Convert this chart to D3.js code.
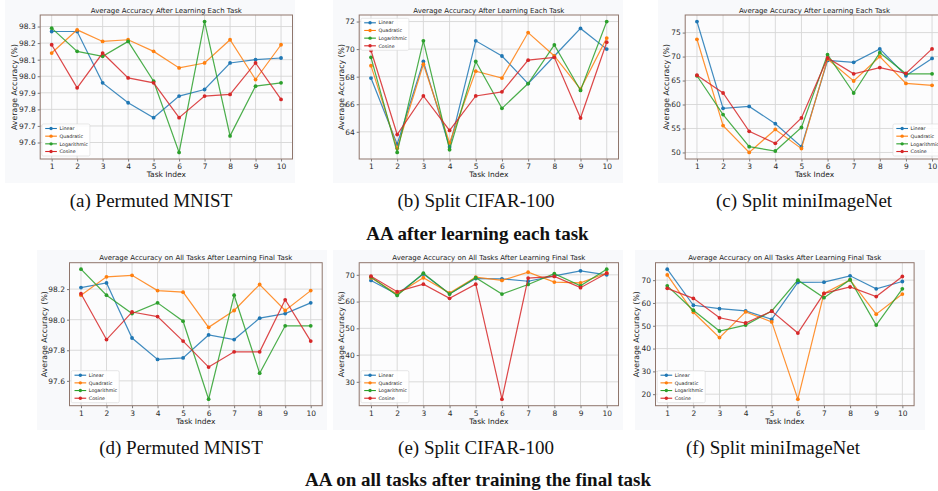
<!DOCTYPE html>
<html><head><meta charset="utf-8">
<script src="https://cdn.jsdelivr.net/npm/d3@7"></script>
<style>
body{margin:0;background:#fff;}
svg{display:block;}
</style></head>
<body>
<svg id="chart" width="938" height="491"></svg>
<script>
const tasks = [1,2,3,4,5,6,7,8,9,10];
const seriesNames = ["Linear","Quadratic","Logarithmic","Cosine"];
const seriesColors = ["#1f77b4","#ff7f0e","#2ca02c","#d62728"];

// (a) Permuted MNIST - after learning each task
const aLinear      = [98.27,98.27,97.96,97.84,97.75,97.88,97.92,98.08,98.10,98.11];
const aQuadratic   = [98.14,98.28,98.21,98.22,98.15,98.05,98.08,98.22,97.98,98.19];
const aLogarithmic = [98.29,98.15,98.12,98.21,97.97,97.54,98.33,97.64,97.94,97.96];
const aCosine      = [98.19,97.93,98.14,97.99,97.96,97.75,97.88,97.89,98.08,97.86];
const aTicks = [97.6,97.7,97.8,97.9,98.0,98.1,98.2,98.3];

// (b) Split CIFAR-100
const bLinear      = [67.9,63.1,69.1,62.9,70.6,69.5,67.5,69.5,71.5,70.0];
const bQuadratic   = [68.8,62.8,68.9,63.2,68.4,67.9,71.2,69.5,67.1,70.8];
const bLogarithmic = [69.4,62.5,70.6,62.7,69.1,65.7,67.5,70.3,67.0,72.0];
const bCosine      = [69.9,63.8,66.6,64.1,66.6,66.9,69.2,69.4,65.0,70.5];
const bTicks = [64,66,68,70,72];

// (c) Split miniImageNet
const cLinear      = [77.3,59.2,59.6,56.0,51.2,69.2,68.8,71.6,66.0,69.6];
const cQuadratic   = [73.6,55.6,50.0,54.8,50.8,69.5,64.9,70.0,64.4,64.0];
const cLogarithmic = [66.0,57.9,51.2,50.3,55.2,70.4,62.4,70.8,66.4,66.4];
const cCosine      = [66.1,62.4,54.4,51.9,57.2,69.7,66.4,67.7,66.5,71.6];
const cTicks = [50,55,60,65,70,75];

// (d) Permuted MNIST - on all tasks after final task
const dLinear      = [98.21,98.24,97.88,97.74,97.75,97.90,97.87,98.01,98.04,98.11];
const dQuadratic   = [98.16,98.28,98.29,98.19,98.18,97.95,98.06,98.23,98.06,98.19];
const dLogarithmic = [98.33,98.16,98.04,98.11,97.99,97.48,98.16,97.65,97.96,97.96];
const dCosine      = [98.17,97.87,98.05,98.02,97.86,97.69,97.79,97.79,98.13,97.86];
const dTicks = [97.6,97.8,98.0,98.2];

// (e) Split CIFAR-100
const eLinear      = [67.9,62.7,70.3,62.9,68.6,68.5,67.6,69.6,71.5,70.0];
const eQuadratic   = [68.9,62.8,68.9,63.2,69.1,67.9,71.0,67.3,67.0,70.7];
const eLogarithmic = [69.2,62.3,70.6,62.8,68.9,62.8,66.4,70.4,65.9,72.1];
const eCosine      = [69.5,63.7,66.5,61.2,66.5,23.5,68.8,69.4,65.2,70.6];
const eTicks = [30,40,50,60,70];

// (f) Split miniImageNet
const fLinear      = [74.8,59.0,57.5,56.5,52.8,69.0,69.1,71.9,66.2,69.4];
const fQuadratic   = [72.3,55.9,44.8,56.1,51.7,17.8,64.2,70.1,55.1,63.9];
const fLogarithmic = [67.5,56.8,47.7,50.3,56.5,70.0,62.3,70.2,50.3,66.2];
const fCosine      = [66.4,62.0,53.5,51.2,56.4,46.8,64.2,67.0,62.8,71.6];
const fTicks = [20,30,40,50,60,70];

const titleTop = "Average Accuracy After Learning Each Task";
const titleBottom = "Average Accuracy on All Tasks After Learning Final Task";
const xLabel = "Task Index";
const yLabel = "Average Accuracy (%)";
const captions = ["(a) Permuted MNIST","(b) Split CIFAR-100","(c) Split miniImageNet",
                  "(d) Permuted MNIST","(e) Split CIFAR-100","(f) Split miniImageNet"];
const rowCaptions = ["AA after learning each task","AA on all tasks after training the final task"];

const panels = [
  {series:[aLinear,aQuadratic,aLogarithmic,aCosine], ticks:aTicks, fmt:".1f", title:titleTop,
   box:[40.2,292.5,15,159], bg:[5,0,290,183], ylx:14.3, legend:"ll"},
  {series:[bLinear,bQuadratic,bLogarithmic,bCosine], ticks:bTicks, fmt:"d", title:titleTop,
   box:[359.2,618.5,15,159], bg:[333,0,290,183], ylx:341, legend:"ul"},
  {series:[cLinear,cQuadratic,cLogarithmic,cCosine], ticks:cTicks, fmt:"d", title:titleTop,
   box:[685.2,943.8,15,159], bg:[658,0,290,183], ylx:666.7, legend:"lr"},
  {series:[dLinear,dQuadratic,dLogarithmic,dCosine], ticks:dTicks, fmt:".1f", title:titleBottom,
   box:[69.5,322.2,262.7,405.7], bg:[37,250,290,180], ylx:44.3, legend:"ll"},
  {series:[eLinear,eQuadratic,eLogarithmic,eCosine], ticks:eTicks, fmt:"d", title:titleBottom,
   box:[359.2,618.5,262.7,405.7], bg:[333,250,290,180], ylx:341, legend:"ll"},
  {series:[fLinear,fQuadratic,fLogarithmic,fCosine], ticks:fTicks, fmt:"d", title:titleBottom,
   box:[655.5,914.1,262.7,405.7], bg:[635,250,290,180], ylx:636.7, legend:"ll"}
];

const svg = d3.select("#chart");
const FONT = "DejaVu Sans, sans-serif";
const SPINE = "#8f766c";

panels.forEach(p => {
  const [x0,x1,y0,y1] = p.box;
  svg.append("rect").attr("x",p.bg[0]).attr("y",p.bg[1]).attr("width",p.bg[2]).attr("height",p.bg[3])
     .attr("fill","#f8f9fb");
  const x = d3.scaleLinear().domain([1-0.45,10+0.45]).range([x0,x1]);
  const all = p.series.flat();
  const mn = d3.min(all), mx = d3.max(all), m = (mx-mn)*0.05;
  const y = d3.scaleLinear().domain([mn-m,mx+m]).range([y1,y0]);
  const g = svg.append("g");
  g.append("rect").attr("x",x0).attr("y",y0).attr("width",x1-x0).attr("height",y1-y0).attr("fill","#fcfcfd");
  // grid
  g.append("g").selectAll("line.gx").data(tasks).join("line")
    .attr("x1",d=>x(d)).attr("x2",d=>x(d)).attr("y1",y0).attr("y2",y1)
    .attr("stroke","#d6d6d6").attr("stroke-width",0.9);
  g.append("g").selectAll("line.gy").data(p.ticks).join("line")
    .attr("y1",d=>y(d)).attr("y2",d=>y(d)).attr("x1",x0).attr("x2",x1)
    .attr("stroke","#d6d6d6").attr("stroke-width",0.9);
  // axes
  const xa = g.append("g").attr("transform",`translate(0,${y1})`)
    .call(d3.axisBottom(x).tickValues(tasks).tickFormat(d3.format("d")).tickSize(2.5).tickPadding(2));
  const ya = g.append("g").attr("transform",`translate(${x0},0)`)
    .call(d3.axisLeft(y).tickValues(p.ticks).tickFormat(d3.format(p.fmt)).tickSize(2.5).tickPadding(2));
  [xa,ya].forEach(a=>{
    a.select(".domain").remove();
    a.selectAll("line").attr("stroke","#444").attr("stroke-width",0.7);
    a.selectAll("text").attr("font-family",FONT).attr("font-size",7.5).attr("fill","#2a2a2a");
  });
  // frame
  g.append("rect").attr("x",x0).attr("y",y0).attr("width",x1-x0).attr("height",y1-y0)
    .attr("fill","none").attr("stroke",SPINE).attr("stroke-width",1);
  // lines
  const line = d3.line().x((d,i)=>x(tasks[i])).y(d=>y(d));
  p.series.forEach((s,k)=>{
    g.append("path").datum(s).attr("d",line).attr("fill","none")
      .attr("stroke",seriesColors[k]).attr("stroke-width",1.2).attr("opacity",0.85);
    g.append("g").selectAll("circle").data(s).join("circle")
      .attr("cx",(d,i)=>x(tasks[i])).attr("cy",d=>y(d)).attr("r",1.9).attr("fill",seriesColors[k]);
  });
  // title & labels
  g.append("text").attr("x",(x0+x1)/2).attr("y",y0-2.5).attr("text-anchor","middle")
    .attr("font-family",FONT).attr("font-size",7).attr("fill","#222").text(p.title);
  g.append("text").attr("x",(x0+x1)/2).attr("y",y1+18).attr("text-anchor","middle")
    .attr("font-family",FONT).attr("font-size",7.5).attr("fill","#222").text(xLabel);
  g.append("text").attr("transform",`translate(${p.ylx+2.7},${(y0+y1)/2}) rotate(-90)`)
    .attr("text-anchor","middle").attr("font-family",FONT).attr("font-size",7.8).attr("fill","#222").text(yLabel);
  // legend
  const lw = 48, lh = 32;
  let lx, ly;
  if (p.legend==="ll") { lx = x0+1.7; ly = y1-3-lh; }
  else if (p.legend==="ul") { lx = x0+1.7; ly = y0+3.3; }
  else { lx = x1-50.8; ly = y1-3-lh; }
  const lg = g.append("g").attr("transform",`translate(${lx},${ly})`);
  lg.append("rect").attr("width",lw).attr("height",lh).attr("rx",1.5)
    .attr("fill","#ffffff").attr("fill-opacity",0.85).attr("stroke","#d8d8d8").attr("stroke-width",0.6);
  seriesNames.forEach((n,k)=>{
    const yy = 4.5 + k*7.67;
    lg.append("line").attr("x1",3.3).attr("x2",15).attr("y1",yy).attr("y2",yy)
      .attr("stroke",seriesColors[k]).attr("stroke-width",1.1);
    lg.append("circle").attr("cx",9.15).attr("cy",yy).attr("r",1.7).attr("fill",seriesColors[k]);
    lg.append("text").attr("x",17.6).attr("y",yy+1.7).attr("font-family",FONT).attr("font-size",4.8)
      .attr("fill","#222").text(n);
  });
});

// captions
const capX = [151,476,804,181,476,773];
const capY = [207,207,207,453.5,453.5,453.5];
captions.forEach((c,i)=>{
  svg.append("text").attr("x",capX[i]).attr("y",capY[i]).attr("text-anchor","middle")
    .attr("font-family","Liberation Serif, Times New Roman, serif").attr("font-size",19).attr("fill","#111").text(c);
});
const rowX = [477.5,478], rowY = [240,485.5];
rowCaptions.forEach((c,i)=>{
  svg.append("text").attr("x",rowX[i]).attr("y",rowY[i]).attr("text-anchor","middle")
    .attr("font-family","Liberation Serif, Times New Roman, serif").attr("font-size",19).attr("font-weight","bold")
    .attr("fill","#111").text(c);
});
</script>
</body></html>
